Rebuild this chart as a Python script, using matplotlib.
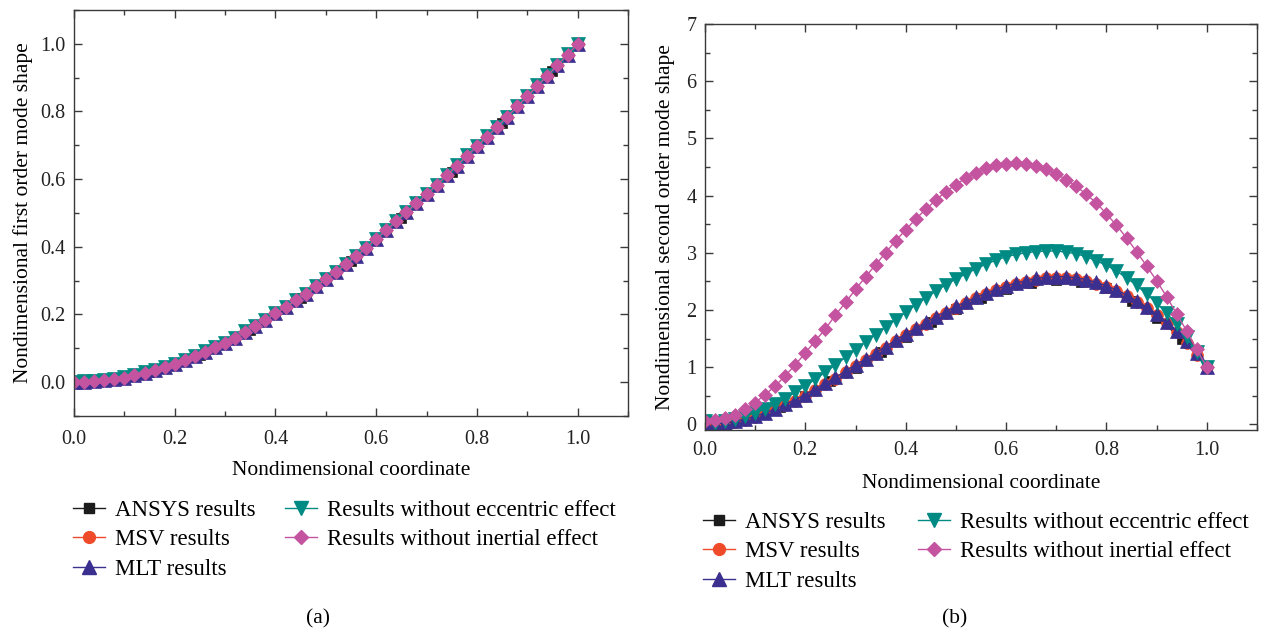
import numpy as np
import matplotlib
matplotlib.use("Agg")
import matplotlib.pyplot as plt
from matplotlib.ticker import MultipleLocator, FormatStrFormatter
from matplotlib.lines import Line2D

plt.rcParams['font.family'] = ['Liberation Serif', 'DejaVu Serif']

# ---------------- data ----------------
x_fine = [0.00, 0.02, 0.04, 0.06, 0.08, 0.10, 0.12, 0.14, 0.16, 0.18,
          0.20, 0.22, 0.24, 0.26, 0.28, 0.30, 0.32, 0.34, 0.36, 0.38,
          0.40, 0.42, 0.44, 0.46, 0.48, 0.50, 0.52, 0.54, 0.56, 0.58,
          0.60, 0.62, 0.64, 0.66, 0.68, 0.70, 0.72, 0.74, 0.76, 0.78,
          0.80, 0.82, 0.84, 0.86, 0.88, 0.90, 0.92, 0.94, 0.96, 0.98, 1.00]
x_ansys = [0.00, 0.05, 0.10, 0.15, 0.20, 0.25, 0.30, 0.35, 0.40, 0.45,
           0.50, 0.55, 0.60, 0.65, 0.70, 0.75, 0.80, 0.85, 0.90, 0.95, 1.00]

# (a) first order mode shape
mode1_ansys = [0.000, 0.004, 0.012, 0.030, 0.052, 0.081, 0.114, 0.154, 0.200, 0.248,
               0.301, 0.358, 0.420, 0.486, 0.552, 0.622, 0.694, 0.766, 0.842, 0.919, 1.000]
mode1_msv = [0.000, 0.001, 0.003, 0.006, 0.009, 0.013, 0.021, 0.028, 0.036, 0.044,
             0.054, 0.065, 0.076, 0.090, 0.104, 0.116, 0.131, 0.149, 0.166, 0.183,
             0.203, 0.222, 0.242, 0.261, 0.283, 0.304, 0.326, 0.349, 0.373, 0.397,
             0.423, 0.450, 0.475, 0.503, 0.529, 0.555, 0.583, 0.611, 0.640, 0.669,
             0.697, 0.726, 0.754, 0.784, 0.815, 0.845, 0.876, 0.906, 0.937, 0.968, 1.000]
mode1_mlt = mode1_msv
mode1_ecc = [0.000, 0.002, 0.004, 0.007, 0.010, 0.014, 0.022, 0.029, 0.037, 0.045,
             0.055, 0.066, 0.077, 0.091, 0.105, 0.117, 0.132, 0.150, 0.167, 0.184,
             0.204, 0.223, 0.243, 0.262, 0.284, 0.305, 0.327, 0.350, 0.374, 0.398,
             0.424, 0.451, 0.476, 0.504, 0.530, 0.556, 0.584, 0.612, 0.641, 0.670,
             0.698, 0.727, 0.755, 0.785, 0.816, 0.846, 0.877, 0.907, 0.938, 0.969, 1.000]
mode1_inert = mode1_msv

# (b) second order mode shape
mode2_ansys = [0.00, 0.03, 0.13, 0.30, 0.49, 0.75, 0.98, 1.27, 1.52, 1.78,
               2.01, 2.20, 2.36, 2.47, 2.52, 2.48, 2.38, 2.16, 1.86, 1.50, 1.00]
mode2_msv = [0.01, 0.00, 0.01, 0.04, 0.08, 0.13, 0.19, 0.26, 0.33, 0.41,
             0.50, 0.60, 0.70, 0.80, 0.91, 1.02, 1.12, 1.23, 1.34, 1.45,
             1.56, 1.66, 1.76, 1.86, 1.95, 2.04, 2.12, 2.20, 2.27, 2.34,
             2.40, 2.45, 2.49, 2.53, 2.55, 2.56, 2.56, 2.54, 2.51, 2.46,
             2.40, 2.33, 2.24, 2.14, 2.03, 1.91, 1.77, 1.61, 1.43, 1.22, 1.00]
mode2_mlt = [0.02, 0.01, 0.02, 0.05, 0.09, 0.14, 0.20, 0.27, 0.35, 0.43,
             0.52, 0.62, 0.72, 0.82, 0.93, 1.04, 1.14, 1.25, 1.36, 1.47,
             1.58, 1.68, 1.78, 1.88, 1.97, 2.06, 2.14, 2.22, 2.29, 2.36,
             2.42, 2.47, 2.51, 2.55, 2.57, 2.58, 2.58, 2.56, 2.53, 2.48,
             2.42, 2.35, 2.26, 2.16, 2.05, 1.93, 1.79, 1.63, 1.45, 1.24, 1.00]
mode2_ecc = [0.05, 0.03, 0.05, 0.09, 0.14, 0.20, 0.27, 0.35, 0.45, 0.56,
             0.67, 0.79, 0.91, 1.04, 1.17, 1.30, 1.44, 1.57, 1.70, 1.83,
             1.96, 2.09, 2.21, 2.33, 2.44, 2.54, 2.63, 2.72, 2.80, 2.87,
             2.93, 2.97, 3.00, 3.02, 3.03, 3.03, 3.01, 2.98, 2.93, 2.86,
             2.78, 2.68, 2.56, 2.43, 2.28, 2.12, 1.94, 1.75, 1.52, 1.27, 1.00]
mode2_inert = [0.05, 0.07, 0.11, 0.17, 0.27, 0.38, 0.52, 0.67, 0.85, 1.04,
               1.25, 1.46, 1.67, 1.91, 2.13, 2.36, 2.58, 2.79, 3.00, 3.21,
               3.40, 3.59, 3.76, 3.92, 4.07, 4.19, 4.31, 4.40, 4.48, 4.53,
               4.56, 4.57, 4.56, 4.52, 4.46, 4.38, 4.28, 4.16, 4.02, 3.87,
               3.68, 3.48, 3.26, 3.02, 2.77, 2.51, 2.23, 1.93, 1.63, 1.31, 1.00]

labels = ["ANSYS results", "MSV results", "MLT results",
          "Results without eccentric effect", "Results without inertial effect"]
colors = ["#1c1c1c", "#ef4b2a", "#3b2f8f", "#008a84", "#c4549f"]
markers = ["s", "o", "^", "v", "D"]
msizes = [7.0, 8.5, 9.5, 9.5, 6.8]

FS_LAB = 15.5
FS_TICK = 14.5
FS_LEG = 16.5

fig = plt.figure(figsize=(12.69, 6.33), dpi=100)
axA = fig.add_axes([74/1269, 1-416/633, (628-74)/1269, (416-10)/633])
axB = fig.add_axes([705/1269, 1-430/633, (1257-705)/1269, (430-24)/633])


def draw(ax, series):
    for (xs, ys), c, m, ms in zip(series, colors, markers, msizes):
        ax.plot(xs, ys, color=c, lw=1.0, marker=m, ms=ms,
                markeredgewidth=0.5, markeredgecolor=c, markerfacecolor=c)


draw(axA, [(x_ansys, mode1_ansys), (x_fine, mode1_msv), (x_fine, mode1_mlt),
           (x_fine, mode1_ecc), (x_fine, mode1_inert)])
draw(axB, [(x_ansys, mode2_ansys), (x_fine, mode2_msv), (x_fine, mode2_mlt),
           (x_fine, mode2_ecc), (x_fine, mode2_inert)])

axA.set_xlim(0, 1.1)
axA.set_ylim(-0.1, 1.1)
axA.set_xticks([0, 0.2, 0.4, 0.6, 0.8, 1.0])
axA.set_yticks([0, 0.2, 0.4, 0.6, 0.8, 1.0])
axA.xaxis.set_minor_locator(MultipleLocator(0.1))
axA.yaxis.set_minor_locator(MultipleLocator(0.1))
axA.xaxis.set_major_formatter(FormatStrFormatter('%.1f'))
axA.yaxis.set_major_formatter(FormatStrFormatter('%.1f'))
axA.set_xlabel("Nondimensional coordinate", fontsize=FS_LAB, labelpad=9)
axA.set_ylabel("Nondimensional first order mode shape", fontsize=FS_LAB, labelpad=5)

axB.set_xlim(0, 1.1)
axB.set_ylim(-0.1, 7)
axB.set_xticks([0, 0.2, 0.4, 0.6, 0.8, 1.0])
axB.xaxis.set_minor_locator(MultipleLocator(0.1))
axB.set_yticks([0, 1, 2, 3, 4, 5, 6, 7])
axB.yaxis.set_minor_locator(MultipleLocator(0.5))
axB.xaxis.set_major_formatter(FormatStrFormatter('%.1f'))
axB.set_xlabel("Nondimensional coordinate", fontsize=FS_LAB, labelpad=10)
axB.set_ylabel("Nondimensional second order mode shape", fontsize=FS_LAB, labelpad=8)

for ax in (axA, axB):
    for s in ax.spines.values():
        s.set_color("#3a3a3a")
        s.set_linewidth(1.0)
    ax.tick_params(which='both', direction='in', top=True, right=True,
                   colors="#3a3a3a", labelcolor="#222222", labelsize=FS_TICK)
    ax.tick_params(which='major', length=6, width=1.0)
    ax.tick_params(which='minor', length=3.5, width=1.0)
    ax.tick_params(axis='y', which='major', pad=6)
axA.tick_params(axis='x', which='major', pad=10)
axB.tick_params(axis='x', which='major', pad=8)


def handles(idx):
    hs = []
    for i in idx:
        hs.append(Line2D([], [], color=colors[i], lw=1.0, marker=markers[i],
                         ms=msizes[i], markeredgecolor=colors[i],
                         markerfacecolor=colors[i]))
    return hs


def add_legend(x0, ytop, idx):
    leg = fig.legend(handles(idx), [labels[i] for i in idx], loc='upper left',
                     bbox_to_anchor=(x0/1269, 1-ytop/633), ncol=1, frameon=False,
                     fontsize=FS_LEG, handlelength=1.4, handletextpad=0.42,
                     labelspacing=0.36, borderpad=0, borderaxespad=0)
    return leg


add_legend(73, 500, [0, 1, 2])
add_legend(285, 500, [3, 4])
add_legend(703, 512, [0, 1, 2])
add_legend(918, 512, [3, 4])

fig.text(318/1269, 1-619/633, "(a)", ha='center', va='center', fontsize=FS_LAB)
fig.text(955/1269, 1-619/633, "(b)", ha='center', va='center', fontsize=FS_LAB)

fig.savefig("out.png", dpi=100)
